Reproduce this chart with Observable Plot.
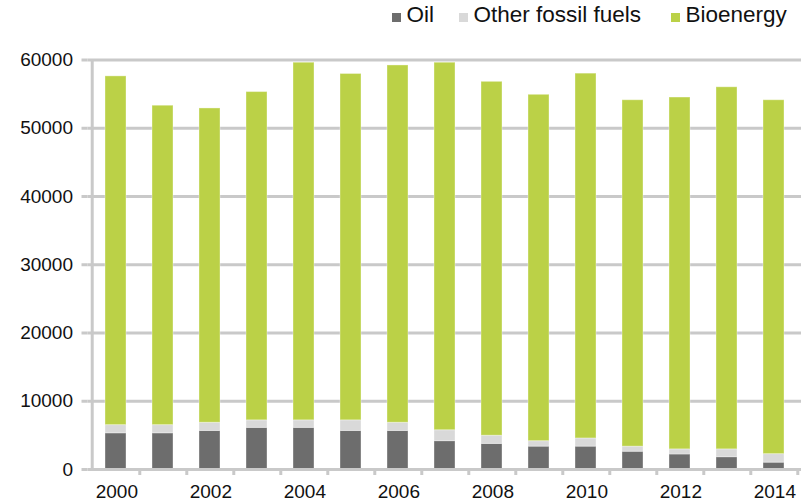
<!DOCTYPE html>
<html>
<head>
<meta charset="utf-8">
<script src="https://cdn.jsdelivr.net/npm/d3@7"></script>
<script src="https://cdn.jsdelivr.net/npm/@observablehq/plot@0.6"></script>
<style>
  html, body { margin: 0; padding: 0; background: #fff; }
  #chart { width: 803px; font-family: "Liberation Sans", Arial, Helvetica, sans-serif; color: #111; }
  #legend { position: relative; height: 44px; font-size: 22.5px; }
  #legend .item { position: absolute; top: 0; display: flex; align-items: flex-start; }
  #legend .swatch { width: 9px; height: 9px; margin-top: 12.5px; margin-right: 5.5px; }
  #legend .label { line-height: 36px; margin-top: -3px; white-space: nowrap; }
  svg { display: block; }
</style>
</head>
<body>
<div id="chart">
  <div id="legend"></div>
</div>
<script>
// Energy use by source, 2000–2014
const years = [2000, 2001, 2002, 2003, 2004, 2005, 2006, 2007, 2008, 2009, 2010, 2011, 2012, 2013, 2014];
const oil = [5300, 5300, 5650, 6100, 6100, 5650, 5650, 4150, 3750, 3350, 3350, 2600, 2200, 1800, 1000];
const otherFossil = [1200, 1200, 1200, 1100, 1100, 1550, 1200, 1600, 1200, 800, 1200, 750, 750, 1150, 1250];
const bioenergy = [51100, 46800, 46050, 48100, 52400, 50750, 52350, 53850, 51850, 50750, 53450, 50750, 51550, 53050, 51850];

const seriesNames = ["Oil", "Other fossil fuels", "Bioenergy"];
const seriesColors = ["#6d6d6d", "#d9d9d9", "#bbd147"];
const yTicks = [0, 10000, 20000, 30000, 40000, 50000, 60000];
const xLabelYears = years.filter(y => y % 2 === 0);

// Long-format table for the stacked bars
const seriesValues = [oil, otherFossil, bioenergy];
const rows = years.flatMap((year, i) =>
  seriesNames.map((series, s) => ({year, series, value: seriesValues[s][i]}))
);

// Legend row above the plot
const legendLeft = [392, 459, 671];
const legend = document.getElementById("legend");
seriesNames.forEach((name, i) => {
  const item = document.createElement("div");
  item.className = "item";
  item.style.left = legendLeft[i] + "px";
  const sw = document.createElement("div");
  sw.className = "swatch";
  sw.style.background = seriesColors[i];
  const lb = document.createElement("div");
  lb.className = "label";
  lb.textContent = name;
  item.append(sw, lb);
  legend.append(item);
});

const width = 803, height = 459;
const marginLeft = 87.5, marginRight = 2, marginTop = 15.5, marginBottom = 34;
const step = (width - marginLeft - marginRight) / years.length;
const grid = "#c9c9c9";
const tickFont = {fontSize: 19, letterSpacing: "1.7px"};
const plain = d => String(d);

const chart = Plot.plot({
  width, height, marginLeft, marginRight, marginTop, marginBottom,
  style: {fontFamily: '"Liberation Sans", Arial, Helvetica, sans-serif', color: "#111", background: "#fff"},
  x: {type: "band", domain: years, paddingInner: 0.55, paddingOuter: 0.275, axis: null},
  y: {domain: [0, 60000], axis: null},
  color: {domain: seriesNames, range: seriesColors},
  marks: [
    Plot.ruleY(yTicks.slice(1), {stroke: grid, strokeWidth: 3}),
    Plot.barY(rows, {x: "year", y: "value", fill: "series", order: seriesNames,
      stroke: "#fff", strokeOpacity: 0.35, strokeWidth: 1}),
    // y axis: line, ticks, labels
    Plot.ruleX([years[0]], {y1: 0, y2: 60000, dx: -step / 2, stroke: grid, strokeWidth: 3}),
    Plot.axisY({ticks: yTicks, tickSize: 6, text: null, label: null, stroke: grid, strokeWidth: 3}),
    Plot.axisY({ticks: yTicks, tickSize: 0, tickPadding: 15, label: null, tickFormat: plain, fill: "#111", ...tickFont}),
    // x axis: baseline, ticks between years, labels on even years
    Plot.ruleY([0], {stroke: grid, strokeWidth: 3}),
    Plot.axisX({ticks: years, tickSize: 6, text: null, label: null, stroke: grid, strokeWidth: 3, dx: step / 2}),
    Plot.axisX({ticks: xLabelYears, tickSize: 0, tickPadding: 15, label: null, tickFormat: plain, fill: "#111", dx: 0.85, ...tickFont})
  ]
});

document.getElementById("chart").append(chart);
</script>
</body>
</html>
